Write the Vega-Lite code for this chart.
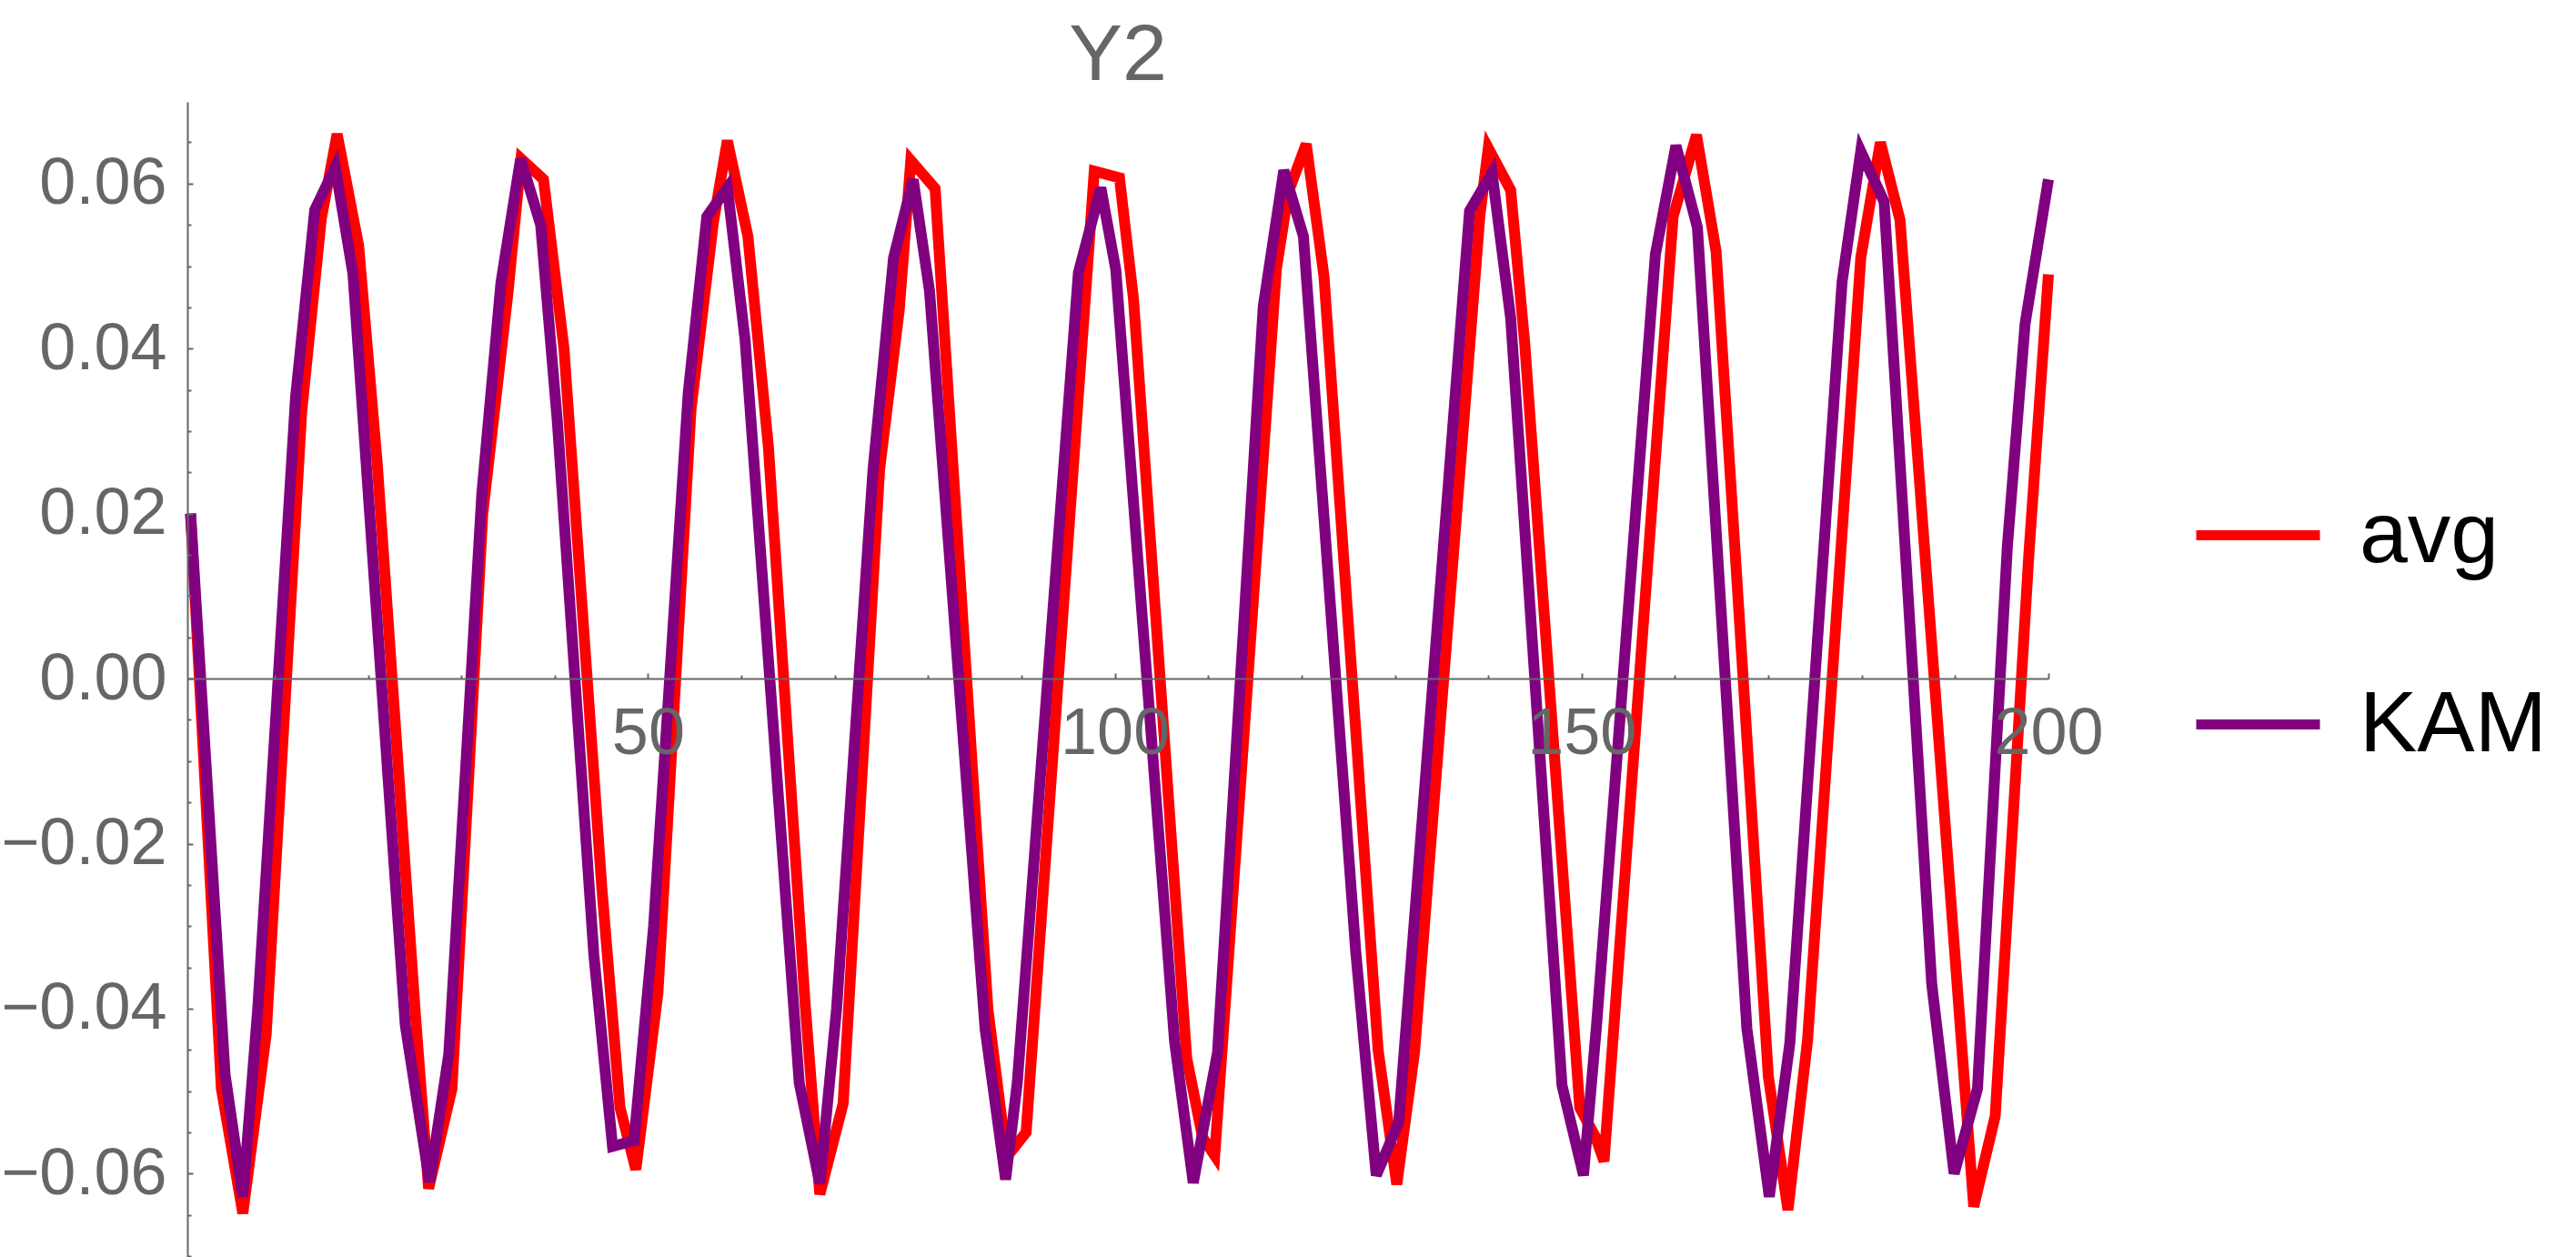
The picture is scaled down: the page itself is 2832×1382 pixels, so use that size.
{
  "$schema": "https://vega.github.io/schema/vega-lite/v6.json",
  "width": 2046,
  "height": 1270,
  "autosize": {"type": "none"},
  "padding": {"left": 206, "top": 112, "right": 580, "bottom": 0},
  "background": "white",
  "title": {"text": "Y2", "font": "Liberation Sans", "fontSize": 88, "fontWeight": "normal", "color": "#666666", "anchor": "middle", "frame": "group", "offset": 6},
  "config": {"view": {"stroke": null}},
  "data": {"values": [
    {"s": "avg", "x": 1.0, "y": 0.020},
    {"s": "avg", "x": 4.3, "y": -0.0497},
    {"s": "avg", "x": 6.6, "y": -0.0648},
    {"s": "avg", "x": 9.1, "y": -0.0431},
    {"s": "avg", "x": 12.9, "y": 0.0323},
    {"s": "avg", "x": 15.0, "y": 0.0557},
    {"s": "avg", "x": 16.7, "y": 0.066},
    {"s": "avg", "x": 19.0, "y": 0.0525},
    {"s": "avg", "x": 21.0, "y": 0.026},
    {"s": "avg", "x": 25.1, "y": -0.041},
    {"s": "avg", "x": 26.5, "y": -0.0618},
    {"s": "avg", "x": 29.0, "y": -0.0497},
    {"s": "avg", "x": 32.3, "y": 0.020},
    {"s": "avg", "x": 35.0, "y": 0.0468},
    {"s": "avg", "x": 36.4, "y": 0.063},
    {"s": "avg", "x": 38.8, "y": 0.0605},
    {"s": "avg", "x": 41.0, "y": 0.040},
    {"s": "avg", "x": 45.05, "y": -0.0253},
    {"s": "avg", "x": 47.0, "y": -0.052},
    {"s": "avg", "x": 48.7, "y": -0.0595},
    {"s": "avg", "x": 51.06, "y": -0.0381},
    {"s": "avg", "x": 54.6, "y": 0.0326},
    {"s": "avg", "x": 57.0, "y": 0.0553},
    {"s": "avg", "x": 58.5, "y": 0.0652},
    {"s": "avg", "x": 60.7, "y": 0.0536},
    {"s": "avg", "x": 62.9, "y": 0.028},
    {"s": "avg", "x": 66.8, "y": -0.039},
    {"s": "avg", "x": 68.4, "y": -0.0625},
    {"s": "avg", "x": 70.9, "y": -0.0515},
    {"s": "avg", "x": 74.8, "y": 0.0253},
    {"s": "avg", "x": 76.9, "y": 0.0446},
    {"s": "avg", "x": 78.15, "y": 0.0628},
    {"s": "avg", "x": 80.75, "y": 0.0594},
    {"s": "avg", "x": 86.4, "y": -0.040},
    {"s": "avg", "x": 88.4, "y": -0.058},
    {"s": "avg", "x": 90.5, "y": -0.055},
    {"s": "avg", "x": 97.8, "y": 0.0615},
    {"s": "avg", "x": 100.5, "y": 0.0607},
    {"s": "avg", "x": 102.0, "y": 0.046},
    {"s": "avg", "x": 107.7, "y": -0.046},
    {"s": "avg", "x": 109.4, "y": -0.0556},
    {"s": "avg", "x": 110.7, "y": -0.0578},
    {"s": "avg", "x": 117.3, "y": 0.0496},
    {"s": "avg", "x": 118.6, "y": 0.059},
    {"s": "avg", "x": 120.5, "y": 0.0648},
    {"s": "avg", "x": 122.4, "y": 0.0488},
    {"s": "avg", "x": 128.2, "y": -0.045},
    {"s": "avg", "x": 130.2, "y": -0.0613},
    {"s": "avg", "x": 132.1, "y": -0.0453},
    {"s": "avg", "x": 139.1, "y": 0.0561},
    {"s": "avg", "x": 140.0, "y": 0.0643},
    {"s": "avg", "x": 142.4, "y": 0.0592},
    {"s": "avg", "x": 143.9, "y": 0.0407},
    {"s": "avg", "x": 149.8, "y": -0.052},
    {"s": "avg", "x": 151.5, "y": -0.0556},
    {"s": "avg", "x": 152.4, "y": -0.0585},
    {"s": "avg", "x": 159.8, "y": 0.056},
    {"s": "avg", "x": 162.3, "y": 0.0659},
    {"s": "avg", "x": 164.4, "y": 0.0518},
    {"s": "avg", "x": 170.0, "y": -0.0482},
    {"s": "avg", "x": 172.1, "y": -0.0644},
    {"s": "avg", "x": 174.2, "y": -0.0438},
    {"s": "avg", "x": 179.9, "y": 0.051},
    {"s": "avg", "x": 182.0, "y": 0.065},
    {"s": "avg", "x": 184.1, "y": 0.0556},
    {"s": "avg", "x": 192.0, "y": -0.064},
    {"s": "avg", "x": 194.3, "y": -0.053},
    {"s": "avg", "x": 197.9, "y": 0.015},
    {"s": "avg", "x": 200.0, "y": 0.049},
    {"s": "KAM", "x": 1.0, "y": 0.020},
    {"s": "KAM", "x": 4.7, "y": -0.048},
    {"s": "KAM", "x": 6.6, "y": -0.0628},
    {"s": "KAM", "x": 8.2, "y": -0.040},
    {"s": "KAM", "x": 12.25, "y": 0.0341},
    {"s": "KAM", "x": 14.3, "y": 0.0568},
    {"s": "KAM", "x": 16.5, "y": 0.062},
    {"s": "KAM", "x": 18.4, "y": 0.049},
    {"s": "KAM", "x": 24.0, "y": -0.042},
    {"s": "KAM", "x": 26.6, "y": -0.061},
    {"s": "KAM", "x": 28.66, "y": -0.0455},
    {"s": "KAM", "x": 32.2, "y": 0.0224},
    {"s": "KAM", "x": 34.25, "y": 0.048},
    {"s": "KAM", "x": 36.35, "y": 0.063},
    {"s": "KAM", "x": 38.5, "y": 0.055},
    {"s": "KAM", "x": 40.3, "y": 0.031},
    {"s": "KAM", "x": 44.2, "y": -0.0335},
    {"s": "KAM", "x": 46.2, "y": -0.0567},
    {"s": "KAM", "x": 48.5, "y": -0.056},
    {"s": "KAM", "x": 50.6, "y": -0.030},
    {"s": "KAM", "x": 54.3, "y": 0.0345},
    {"s": "KAM", "x": 56.3, "y": 0.056},
    {"s": "KAM", "x": 58.5, "y": 0.0595},
    {"s": "KAM", "x": 60.4, "y": 0.041},
    {"s": "KAM", "x": 66.2, "y": -0.049},
    {"s": "KAM", "x": 68.4, "y": -0.0612},
    {"s": "KAM", "x": 70.2, "y": -0.040},
    {"s": "KAM", "x": 74.1, "y": 0.0253},
    {"s": "KAM", "x": 76.3, "y": 0.051},
    {"s": "KAM", "x": 78.4, "y": 0.0605},
    {"s": "KAM", "x": 80.15, "y": 0.047},
    {"s": "KAM", "x": 86.1, "y": -0.0424},
    {"s": "KAM", "x": 88.3, "y": -0.0607},
    {"s": "KAM", "x": 89.55, "y": -0.049},
    {"s": "KAM", "x": 96.1, "y": 0.0492},
    {"s": "KAM", "x": 98.5, "y": 0.0595},
    {"s": "KAM", "x": 100.1, "y": 0.0496},
    {"s": "KAM", "x": 106.4, "y": -0.044},
    {"s": "KAM", "x": 108.4, "y": -0.0611},
    {"s": "KAM", "x": 111.0, "y": -0.0453},
    {"s": "KAM", "x": 115.9, "y": 0.0451},
    {"s": "KAM", "x": 118.1, "y": 0.0616},
    {"s": "KAM", "x": 120.2, "y": 0.0536},
    {"s": "KAM", "x": 125.8, "y": -0.033},
    {"s": "KAM", "x": 128.0, "y": -0.0602},
    {"s": "KAM", "x": 130.4, "y": -0.0538},
    {"s": "KAM", "x": 138.0, "y": 0.0567},
    {"s": "KAM", "x": 140.4, "y": 0.0613},
    {"s": "KAM", "x": 142.4, "y": 0.0437},
    {"s": "KAM", "x": 147.9, "y": -0.0493},
    {"s": "KAM", "x": 150.2, "y": -0.0602},
    {"s": "KAM", "x": 151.6, "y": -0.042},
    {"s": "KAM", "x": 157.9, "y": 0.0514},
    {"s": "KAM", "x": 160.1, "y": 0.0646},
    {"s": "KAM", "x": 162.4, "y": 0.0547},
    {"s": "KAM", "x": 167.7, "y": -0.0424},
    {"s": "KAM", "x": 170.1, "y": -0.0628},
    {"s": "KAM", "x": 172.3, "y": -0.0442},
    {"s": "KAM", "x": 177.9, "y": 0.0481},
    {"s": "KAM", "x": 179.9, "y": 0.0639},
    {"s": "KAM", "x": 182.4, "y": 0.0578},
    {"s": "KAM", "x": 187.5, "y": -0.037},
    {"s": "KAM", "x": 189.9, "y": -0.060},
    {"s": "KAM", "x": 192.4, "y": -0.0497},
    {"s": "KAM", "x": 195.6, "y": 0.016},
    {"s": "KAM", "x": 197.5, "y": 0.043},
    {"s": "KAM", "x": 200.0, "y": 0.0605}
  ]},
  "resolve": {"axis": {"x": "independent", "y": "independent"}},
  "layer": [
    {
      "transform": [{"filter": "datum.s === 'avg'"}],
      "mark": {"type": "line", "strokeWidth": 12, "strokeJoin": "miter", "strokeMiterLimit": 4, "clip": false},
      "encoding": {
        "x": {
          "field": "x", "type": "quantitative",
          "scale": {"domain": [0.66, 200], "nice": false, "zero": false},
          "axis": {
            "orient": "bottom", "values": [50, 100, 150, 200], "format": "d", "offset": -636, "title": null, "grid": false,
            "domainColor": "#666666", "domainWidth": 2, "tickColor": "#666666", "tickWidth": 2, "tickSize": -6,
            "labelPadding": 31, "labelFont": "Liberation Sans", "labelFontSize": 72, "labelColor": "#666666",
            "labelFlush": false, "labelOverlap": false, "labelBound": false, "labelLimit": 0, "zindex": 1
          }
        },
        "y": {
          "field": "y", "type": "quantitative",
          "scale": {"domain": [-0.0701, 0.0699], "nice": false, "zero": false},
          "axis": {
            "orient": "left", "values": [-0.06, -0.04, -0.02, 0, 0.02, 0.04, 0.06], "format": ".2f", "title": null, "grid": false,
            "domainColor": "#666666", "domainWidth": 2, "tickColor": "#666666", "tickWidth": 2, "tickSize": -6,
            "labelPadding": 29, "labelFont": "Liberation Sans", "labelFontSize": 72, "labelColor": "#666666",
            "labelFlush": false, "labelOverlap": false, "labelBound": false, "labelLimit": 0, "zindex": 1
          }
        },
        "color": {
          "field": "s", "type": "nominal",
          "scale": {"domain": ["avg", "KAM"], "range": ["#ff0000", "#800080"]},
          "legend": {
            "orient": "none", "legendX": 2203, "legendY": 403, "title": null,
            "symbolType": "stroke", "symbolSize": 18496, "symbolStrokeWidth": 11,
            "labelFont": "Liberation Sans", "labelFontSize": 95, "labelColor": "black",
            "labelOffset": 38, "rowPadding": 86, "labelLimit": 0, "padding": 0
          }
        }
      }
    },
    {
      "transform": [{"filter": "datum.s === 'KAM'"}],
      "mark": {"type": "line", "strokeWidth": 12, "strokeJoin": "miter", "strokeMiterLimit": 4, "clip": false},
      "encoding": {
        "x": {
          "field": "x", "type": "quantitative",
          "scale": {"domain": [0.66, 200], "nice": false, "zero": false},
          "axis": {
            "orient": "bottom", "values": [10, 20, 30, 40, 60, 70, 80, 90, 110, 120, 130, 140, 160, 170, 180, 190],
            "offset": -636, "title": null, "grid": false, "domain": false, "labels": false,
            "tickColor": "#666666", "tickWidth": 2, "tickSize": -4, "zindex": 1
          }
        },
        "y": {
          "field": "y", "type": "quantitative",
          "scale": {"domain": [-0.0701, 0.0699], "nice": false, "zero": false},
          "axis": {
            "orient": "left",
            "values": [-0.07, -0.065, -0.055, -0.05, -0.045, -0.035, -0.03, -0.025, -0.015, -0.01, -0.005, 0.005, 0.01, 0.015, 0.025, 0.03, 0.035, 0.045, 0.05, 0.055, 0.065],
            "title": null, "grid": false, "domain": false, "labels": false,
            "tickColor": "#666666", "tickWidth": 2, "tickSize": -4, "zindex": 1
          }
        },
        "color": {
          "field": "s", "type": "nominal",
          "scale": {"domain": ["avg", "KAM"], "range": ["#ff0000", "#800080"]}
        }
      }
    }
  ]
}
